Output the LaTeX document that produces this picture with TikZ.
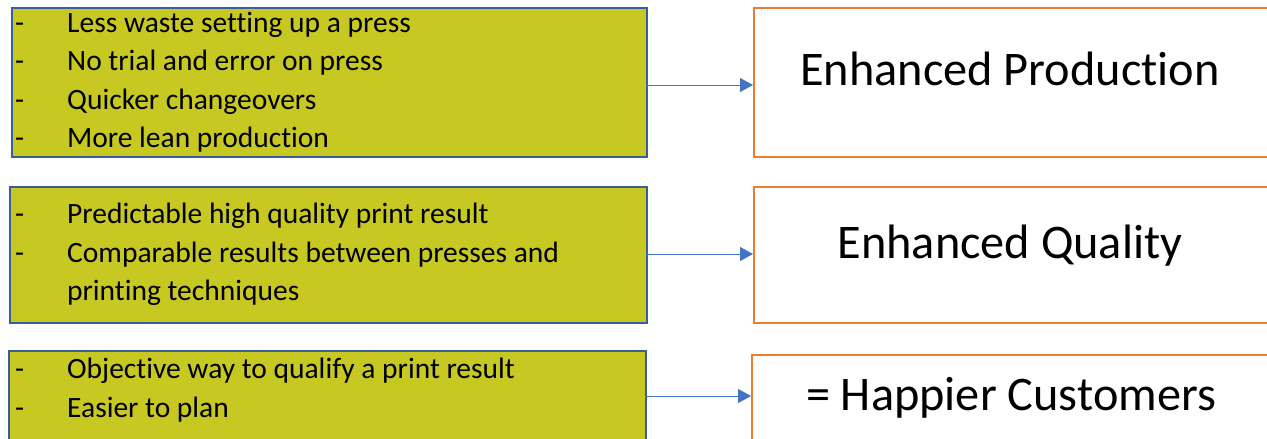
\documentclass[tikz,border=0pt]{standalone}
\usepackage{fontspec}
\setmainfont{Carlito}[Ligatures={NoCommon}]
\usetikzlibrary{arrows.meta}
\definecolor{boxfill}{HTML}{C7C822}
\definecolor{boxedge}{HTML}{3A5E9A}
\definecolor{outedge}{HTML}{ED7D31}
\definecolor{arrowblue}{HTML}{4472C4}
\tikzset{
  x=1pt, y=-1pt,
  greenbox/.style={draw=boxedge, line width=1.6pt, fill=boxfill},
  outbox/.style={draw=outedge, line width=1.8pt, fill=white},
  bullet/.style={anchor=base west, inner sep=0pt, font=\fontsize{29.5}{34}\selectfont},
  item/.style={anchor=base west, inner sep=0pt, font=\fontsize{29.5}{34}\selectfont},
  outtext/.style={anchor=base, inner sep=0pt, font=\fontsize{48.3}{54}\selectfont},
  link/.style={draw=arrowblue, line width=1pt, -{Triangle[length=13pt,width=14pt]}}
}
\begin{document}
\begin{tikzpicture}
\useasboundingbox (0,0) rectangle (1267,439);
% green boxes
\node[greenbox, minimum width=635pt, minimum height=149pt, anchor=north west, inner sep=0pt] (g1) at (11,7) {};
\node[greenbox, minimum width=637pt, minimum height=136pt, anchor=north west, inner sep=0pt] (g2) at (9,186) {};
\node[greenbox, minimum width=637pt, minimum height=110pt, anchor=north west, inner sep=0pt] (g3) at (8,350) {};
% output boxes
\node[outbox, minimum width=530pt, minimum height=149pt, anchor=north west, inner sep=0pt] (o1) at (753,7) {};
\node[outbox, minimum width=530pt, minimum height=136pt, anchor=north west, inner sep=0pt] (o2) at (753,186) {};
\node[outbox, minimum width=530pt, minimum height=110pt, anchor=north west, inner sep=0pt] (o3) at (751,354) {};
% box 1 text
\node[bullet] (d11) at (15,32) {-};
\node[item] (t11) at (67,32) {Less waste setting up a press};
\node[bullet] (d12) at (15,70.5) {-};
\node[item] (t12) at (67,70.5) {No trial and error on press};
\node[bullet] (d13) at (15,109) {-};
\node[item] (t13) at (67,109) {Quicker changeovers};
\node[bullet] (d14) at (15,147.5) {-};
\node[item] (t14) at (67,147.5) {More lean production};
% box 2 text
\node[bullet] (d21) at (15,223.5) {-};
\node[item] (t21) at (67,223.5) {Predictable high quality print result};
\node[bullet] (d22) at (15,262) {-};
\node[item] (t22) at (67,262) {Comparable results between presses and};
\node[item] (t23) at (67,300.5) {printing techniques};
% box 3 text
\node[bullet] (d31) at (15,378.5) {-};
\node[item] (t31) at (67,378.5) {Objective way to qualify a print result};
\node[bullet] (d32) at (15,417) {-};
\node[item] (t32) at (67,417) {Easier to plan};
% output text
\node[outtext] (r1) at (1010,85) {Enhanced Production};
\node[outtext] (r2) at (1010,258) {Enhanced Quality};
\node[outtext] (r3) at (1011,410) {= Happier Customers};
% connectors
\coordinate (a1) at (646,85);
\coordinate (a2) at (646,254);
\coordinate (a3) at (645,396);
\draw[link] (a1) -- (a1 -| o1.west);
\draw[link] (a2) -- (a2 -| o2.west);
\draw[link] (a3) -- (a3 -| o3.west);
\end{tikzpicture}
\end{document}
